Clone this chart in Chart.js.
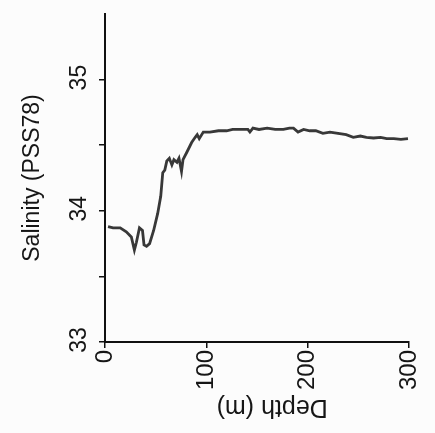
<!DOCTYPE html>
<html>
<head>
<meta charset="utf-8">
<script src="https://cdn.jsdelivr.net/npm/chart.js@4.4.0/dist/chart.umd.min.js"></script>
<style>
  html, body { margin: 0; padding: 0; background: #fcfcfc; }
  #wrap { width: 435px; height: 433px; }
</style>
</head>
<body>
<div id="wrap"><canvas id="myChart"></canvas></div>
<script>
// depth (m) and salinity
const depth = [3, 8, 15, 21, 26, 29, 31, 34, 37, 38.5, 41, 44, 48, 52, 55, 57, 59, 61, 63.5, 66,
  68, 71, 73, 75.5, 77, 81, 85.5, 89, 91, 93, 97, 103.5, 112, 120, 126, 134, 141, 143, 146, 152,
  160, 168, 176, 182, 186, 190.5, 196, 202, 208, 215, 222, 230, 238, 245, 252, 258, 265, 272, 278, 285,
  292, 299];
const salinity = [33.88, 33.87, 33.87, 33.84, 33.80, 33.70, 33.76, 33.87, 33.85, 33.74, 33.73, 33.75, 33.85, 33.98, 34.11, 34.29, 34.31, 34.38, 34.40, 34.35,
  34.39, 34.37, 34.40, 34.30, 34.39, 34.45, 34.52, 34.56, 34.58, 34.55, 34.60, 34.60, 34.61, 34.61, 34.62, 34.62, 34.62, 34.60, 34.63, 34.62,
  34.63, 34.62, 34.62, 34.63, 34.63, 34.60, 34.62, 34.61, 34.61, 34.59, 34.60, 34.59, 34.58, 34.56, 34.57, 34.56, 34.555, 34.56, 34.55, 34.55,
  34.545, 34.55];
const yTickLabels = [33, 34, 35];
const xTitle = 'Depth (m)';
const yTitle = 'Salinity (PSS78)';

const FONT = 'Liberation Sans, Arial, sans-serif';
const INK = '#161616';

let points = depth.map((d, i) => ({x: d, y: salinity[i]}));

// y labels are turned on their side and the x title is upside down in the scan,
// chart.js can't do that itself so draw them after
const rotatedText = {
  id: 'rotatedText',
  afterDraw(chart) {
    const ctx = chart.ctx;
    const ys = chart.scales.y;
    const xs = chart.scales.x;
    ctx.save();
    ctx.fillStyle = INK;
    ctx.font = '23px ' + FONT;
    ctx.textAlign = 'center';
    ctx.textBaseline = 'middle';
    yTickLabels.forEach(v => {
      ctx.save();
      ctx.translate(80, ys.getPixelForValue(v) - 2);
      ctx.rotate(-Math.PI / 2);
      ctx.fillText(String(v), 0, 0);
      ctx.restore();
    });
    ctx.translate(xs.getPixelForValue(165), 407);
    ctx.rotate(Math.PI);
    ctx.font = '25px ' + FONT;
    ctx.fillText(xTitle, 0, 0);
    ctx.restore();
  }
};

new Chart(document.getElementById('myChart'), {
  type: 'scatter',
  data: {
    datasets: [{
      data: points,
      showLine: true,
      borderColor: '#383838',
      borderWidth: 2.8,
      pointRadius: 0,
      tension: 0
    }]
  },
  options: {
    responsive: true,
    maintainAspectRatio: false,
    animation: false,
    layout: { padding: { left: 0, top: 14, right: 26, bottom: 0 } },
    plugins: { legend: { display: false }, tooltip: { enabled: false } },
    scales: {
      x: {
        type: 'linear',
        min: 0,
        max: 300,
        afterFit: s => { s.height = 91; s.paddingLeft = 0; s.paddingRight = 0; },
        border: { color: '#111', width: 2 },
        grid: {
          drawOnChartArea: false,
          tickLength: 6,
          lineWidth: 1.5,
          color: ctx => (ctx.tick && ctx.tick.value % 100 === 0) ? '#111' : 'rgba(0,0,0,0)'
        },
        ticks: {
          stepSize: 50,
          minRotation: 90,
          maxRotation: 90,
          padding: 2,
          color: INK,
          font: { family: FONT, size: 24 },
          callback: v => (v % 100 === 0 ? String(v) : '')
        },
        title: { display: false }
      },
      y: {
        min: 33,
        max: 35.5,
        afterFit: s => { s.width = 105; s.paddingTop = 0; s.paddingBottom = 0; },
        border: { color: '#111', width: 2 },
        grid: {
          drawOnChartArea: false,
          tickLength: 6,
          lineWidth: 1.5,
          color: ctx => (ctx.tick && ctx.tick.value === 35.5) ? 'rgba(0,0,0,0)' : '#111'
        },
        ticks: {
          stepSize: 0.5,
          color: 'rgba(0,0,0,0)',
          font: { family: FONT, size: 23 },
          callback: v => (Number.isInteger(v) ? String(v) : '')
        },
        title: {
          display: true,
          text: yTitle,
          color: INK,
          font: { family: FONT, size: 23 },
          padding: { top: 19, bottom: 0 }
        }
      }
    }
  },
  plugins: [rotatedText]
});
</script>
</body>
</html>
